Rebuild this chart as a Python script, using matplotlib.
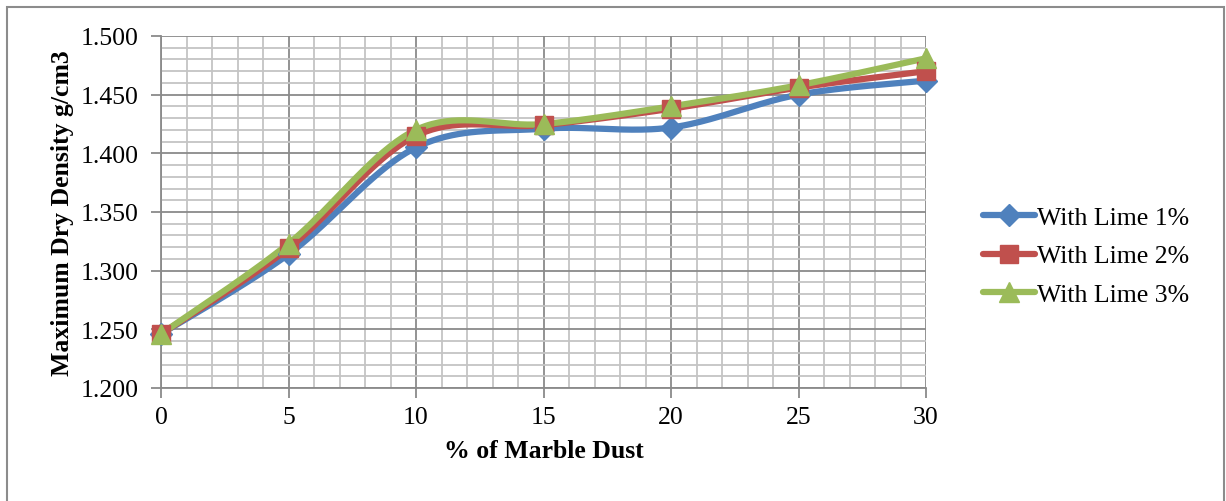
import numpy as np
import matplotlib.pyplot as plt
from matplotlib.ticker import MultipleLocator, FormatStrFormatter
from matplotlib.lines import Line2D
from matplotlib.patches import Rectangle

plt.rcParams['font.family'] = ['Liberation Serif', 'DejaVu Serif']

marble_dust = [0, 5, 10, 15, 20, 25, 30]
lime_1 = [1.246, 1.314, 1.405, 1.421, 1.422, 1.450, 1.462]
lime_2 = [1.246, 1.319, 1.415, 1.424, 1.438, 1.456, 1.470]
lime_3 = [1.246, 1.323, 1.420, 1.425, 1.440, 1.458, 1.481]
labels = ["With Lime 1%", "With Lime 2%", "With Lime 3%"]

colors = ["#4F81BD", "#C0504D", "#9BBB59"]
markers = ["D", "s", "^"]
msizes = [11, 13, 15]


def smooth(x, y, n=40):
    # catmull-rom through each point, drawn as cubic bezier segments
    x = np.asarray(x, float)
    y = np.asarray(y, float)
    px = np.concatenate([[x[0]], x, [x[-1]]])
    py = np.concatenate([[y[0]], y, [y[-1]]])
    t = np.linspace(0, 1, n)
    xs, ys = [], []
    for i in range(1, len(px) - 2):
        p0 = np.array([px[i], py[i]])
        p3 = np.array([px[i + 1], py[i + 1]])
        c1 = p0 + (p3 - np.array([px[i - 1], py[i - 1]])) / 6
        c2 = p3 - (np.array([px[i + 2], py[i + 2]]) - p0) / 6
        b = ((1 - t) ** 3)[:, None] * p0 + (3 * (1 - t) ** 2 * t)[:, None] * c1 \
            + (3 * (1 - t) * t ** 2)[:, None] * c2 + (t ** 3)[:, None] * p3
        xs.append(b[:, 0])
        ys.append(b[:, 1])
    return np.concatenate(xs), np.concatenate(ys)


fig = plt.figure(figsize=(12.26, 5.02), dpi=100)
fig.patches.append(Rectangle((7 / 1226, -0.1), 1217 / 1226, 1.1 - 8 / 502,
                             transform=fig.transFigure, fill=False,
                             edgecolor="#8c8c8c", linewidth=1.5))
ax = fig.add_axes([161 / 1226, 113 / 502, 765 / 1226, 352 / 502])

ax.set_xlim(0, 30)
ax.set_ylim(1.2, 1.5)
ax.xaxis.set_major_locator(MultipleLocator(5))
ax.xaxis.set_minor_locator(MultipleLocator(1))
ax.yaxis.set_major_locator(MultipleLocator(0.05))
ax.yaxis.set_minor_locator(MultipleLocator(0.01))
ax.yaxis.set_major_formatter(FormatStrFormatter("%.3f"))

ax.grid(which="minor", color="#c4c4c4", linewidth=1.3)
ax.grid(which="major", color="#8a8a8a", linewidth=1.3)
ax.set_axisbelow(True)
for s in ["top", "right"]:
    ax.spines[s].set_visible(False)
for s in ["left", "bottom"]:
    ax.spines[s].set_color("#8a8a8a")
    ax.spines[s].set_linewidth(1.3)
ax.tick_params(axis="y", which="major", length=7, width=1.3, color="#8a8a8a",
               labelsize=18.5, pad=9)
ax.tick_params(axis="x", which="major", length=7, width=1.3, color="#8a8a8a",
               labelsize=18.5, pad=6)
ax.tick_params(which="minor", length=0)

handles = []
for ys, c, m, ms, lab in zip([lime_1, lime_2, lime_3], colors, markers, msizes, labels):
    sx, sy = smooth(marble_dust, ys)
    ax.plot(sx, sy, color=c, linewidth=4.5, solid_capstyle="round", zorder=3)
    ax.plot(marble_dust, ys, linestyle="none", marker=m, markersize=ms,
            color=c, zorder=4, clip_on=False)
    handles.append(Line2D([], [], color=c, linewidth=4.5, marker=m, markersize=ms,
                          solid_capstyle="round", label=lab))

ax.set_xlabel("% of Marble Dust", fontsize=18.5, fontweight="bold", labelpad=8)
ax.set_ylabel("Maximum Dry Density g/cm3", fontsize=18.5, fontweight="bold", labelpad=5)

fig.legend(handles=handles, loc="center left", bbox_to_anchor=(973 / 1226, 1 - 257 / 502),
           frameon=False, fontsize=18.5, handlelength=2.0, handletextpad=0.1,
           labelspacing=0.62, borderaxespad=0)

fig.savefig("out.png", dpi=100)
